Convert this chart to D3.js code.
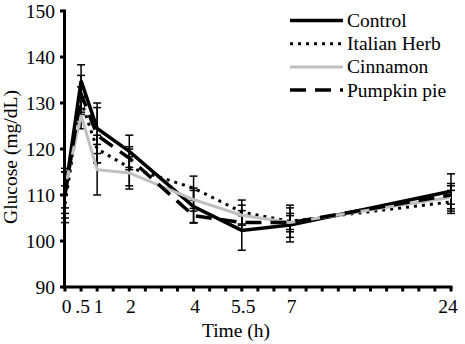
<!DOCTYPE html>
<html lang="en">
<head>
  <meta charset="UTF-8">
  <title>Glucose over time</title>
  <script src="https://d3js.org/d3.v7.min.js"></script>
  <style>
    body { margin: 0; background: #fff; }
  </style>
</head>
<body>
  <script>
    // Sampling times (h) and their tick labels
    const times = [0, 0.5, 1, 2, 4, 5.5, 7, 24];
    const timeLabels = ["0", ".5", "1", "2", "4", "5.5", "7", "24"];
    const yTicks = [90, 100, 110, 120, 130, 140, 150];

    // Mean glucose (mg/dL) and standard error per series
    const control      = [110.5, 134.8, 124.5, 119.5, 107.5, 102.3, 103.5, 110.8];
    const controlSE    = [4.5, 3.5, 5.5, 3.5, 3.5, 4.3, 3.7, 3.8];
    const italianHerb  = [108, 130.5, 120, 116, 111.5, 106.3, 104.3, 108.5];
    const italianSE    = [4, 3, 3, 4, 2.6, 2.6, 3.5, 2.5];
    const cinnamon     = [111.5, 127.4, 115.5, 114.8, 109, 105.6, 104, 109.5];
    const cinnamonSE   = [4.3, 3, 5.5, 3.5, 2.5, 2.2, 2, 3];
    const pumpkinPie   = [110, 132, 123, 118, 105.5, 104, 104, 110];
    const pumpkinSE    = [5, 4, 6, 2.5, 1.6, 1.5, 1.5, 2];

    const series = [
      { name: "Control", values: control, se: controlSE, color: "#000", width: 3.5, dash: null },
      { name: "Italian Herb", values: italianHerb, se: italianSE, color: "#000", width: 3, dash: "3,5" },
      { name: "Cinnamon", values: cinnamon, se: cinnamonSE, color: "#bfbfbf", width: 3, dash: null },
      { name: "Pumpkin pie", values: pumpkinPie, se: pumpkinSE, color: "#000", width: 3.5, dash: "16,9" }
    ];

    const font = "'Liberation Serif', 'Times New Roman', 'DejaVu Serif', serif";
    const width = 465, height = 344;
    const svg = d3.select("body").append("svg")
      .attr("width", width)
      .attr("height", height)
      .attr("font-family", font);

    // broken time axis: 0-7 h on one stretch, 7-24 h squeezed into the rest
    const x = d3.scaleLinear().domain([0, 7, 24]).range([65, 290, 451]);
    const y = d3.scaleLinear().domain([90, 150]).range([287, 11]);

    // error bars
    series.forEach(s => {
      const g = svg.append("g");
      times.forEach((t, i) => {
        const cx = x(t), y1 = y(s.values[i] + s.se[i]), y2 = y(s.values[i] - s.se[i]);
        g.append("line").attr("x1", cx).attr("x2", cx).attr("y1", y1).attr("y2", y2)
          .attr("stroke", "#000").attr("stroke-width", 1.5);
        [y1, y2].forEach(yy => {
          g.append("line").attr("x1", cx - 4).attr("x2", cx + 4).attr("y1", yy).attr("y2", yy)
            .attr("stroke", "#000").attr("stroke-width", 1.5);
        });
      });
    });

    // lines
    const line = d3.line()
      .x((d, i) => x(times[i]))
      .y(d => y(d));

    series.forEach(s => {
      svg.append("path")
        .attr("d", line(s.values))
        .attr("fill", "none")
        .attr("stroke", s.color)
        .attr("stroke-width", s.width)
        .attr("stroke-dasharray", s.dash)
        .attr("stroke-linejoin", "miter");
    });

    // y axis
    const yAxis = svg.append("g");
    yAxis.append("line")
      .attr("x1", 64.5).attr("x2", 64.5).attr("y1", y(150) - 1.5).attr("y2", y(90) + 1.5)
      .attr("stroke", "#000").attr("stroke-width", 3);
    yTicks.forEach(v => {
      yAxis.append("line").attr("x1", 60).attr("x2", 64.5).attr("y1", y(v)).attr("y2", y(v))
        .attr("stroke", "#000").attr("stroke-width", 3);
      yAxis.append("text").attr("x", 55).attr("y", y(v)).attr("dy", "0.35em")
        .attr("text-anchor", "end").attr("font-size", "19.5px").text(v);
    });

    // x axis
    const xAxis = svg.append("g");
    xAxis.append("line")
      .attr("x1", 63).attr("x2", 452.5).attr("y1", 287).attr("y2", 287)
      .attr("stroke", "#000").attr("stroke-width", 3);
    const minorTicks = d3.range(0, 7, 0.5).concat(d3.range(0, 11).map(i => 7 + i * 1.7));
    minorTicks.forEach(t => {
      xAxis.append("line").attr("x1", x(t)).attr("x2", x(t)).attr("y1", 287).attr("y2", 291.5)
        .attr("stroke", "#000").attr("stroke-width", 3);
    });
    times.forEach((t, i) => {
      xAxis.append("text").attr("x", x(t) + (i < 7 ? 1.5 : -3)).attr("y", 313)
        .attr("text-anchor", "middle").attr("font-size", "19.5px").text(timeLabels[i]);
    });

    // axis titles
    svg.append("text").attr("x", 236).attr("y", 337)
      .attr("text-anchor", "middle").attr("font-size", "19.5px").text("Time (h)");
    svg.append("text")
      .attr("transform", "translate(17,157) rotate(-90)")
      .attr("text-anchor", "middle").attr("font-size", "19.5px").text("Glucose (mg/dL)");

    // legend
    const legend = svg.selectAll(".legend")
      .data(series)
      .enter()
      .append("g")
      .attr("transform", (d, i) => `translate(0, ${20.5 + i * 23.2})`);

    legend.append("line")
      .attr("x1", 290).attr("x2", 343).attr("y1", 0).attr("y2", 0)
      .attr("stroke", d => d.color)
      .attr("stroke-width", d => d.width)
      .attr("stroke-dasharray", d => d.dash);

    legend.append("text")
      .attr("x", 347).attr("y", 0).attr("dy", "0.33em")
      .attr("font-size", "19.5px")
      .text(d => d.name);
  </script>
</body>
</html>
